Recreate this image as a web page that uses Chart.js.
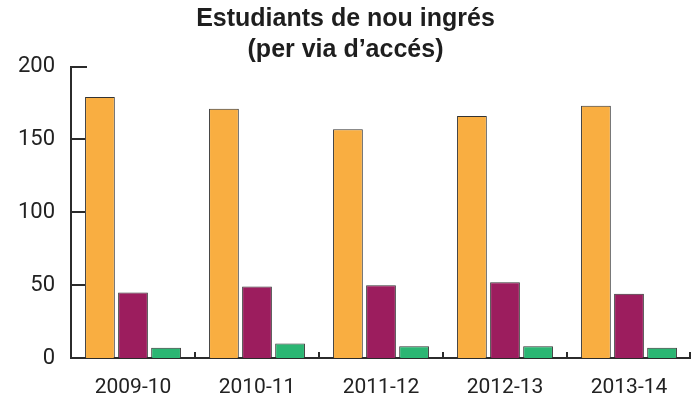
<!DOCTYPE html>
<html>
<head>
<meta charset="utf-8">
<script src="https://cdn.jsdelivr.net/npm/chart.js@4/dist/chart.umd.min.js"></script>
<style>
  html, body { margin: 0; padding: 0; background: #fff; }
  #chart { display: block; }
</style>
</head>
<body>
<canvas id="chart" width="691" height="403"></canvas>
<script>
const categories = ["2009-10", "2010-11", "2011-12", "2012-13", "2013-14"];
const seriesOrange = [179, 171, 157, 166, 173];
const seriesPurple = [45, 49, 50, 52, 44];
const seriesGreen = [7, 10, 8, 8, 7];
const yTicks = [0, 50, 100, 150, 200];
const titleLines = ["Estudiants de nou ingrés", "(per via d’accés)"];

const axisColor = "#2b2b2b";

// marques d'eix cap a dins (com a l'original)
const innerTicks = {
  id: "innerTicks",
  afterDraw(chart) {
    const { ctx, chartArea, scales } = chart;
    const x = scales.x, y = scales.y;
    const step = x.getPixelForValue(1) - x.getPixelForValue(0);
    ctx.save();
    ctx.strokeStyle = axisColor;
    ctx.lineWidth = 2;
    ctx.beginPath();
    yTicks.forEach(v => {
      if (v === 0) return;
      const py = Math.round(y.getPixelForValue(v));
      const len = v === 200 ? 16 : 14;
      ctx.moveTo(chartArea.left, py);
      ctx.lineTo(chartArea.left + len, py);
    });
    for (let i = 0; i < categories.length; i++) {
      const px = Math.min(Math.round(x.getPixelForValue(i) + step / 2), chartArea.right - 1);
      ctx.moveTo(px, chartArea.bottom);
      ctx.lineTo(px, chartArea.bottom - 6);
    }
    ctx.stroke();
    ctx.restore();
  }
};

const barStyle = { borderColor: "#333", borderWidth: 1, categoryPercentage: 0.8, barPercentage: 0.9 };

new Chart(document.getElementById("chart"), {
  type: "bar",
  data: {
    labels: categories,
    datasets: [
      Object.assign({ label: "A", data: seriesOrange, backgroundColor: "#f9ae41" }, barStyle),
      Object.assign({ label: "B", data: seriesPurple, backgroundColor: "#9c1d5e" }, barStyle),
      Object.assign({ label: "C", data: seriesGreen, backgroundColor: "#2bb673" }, barStyle)
    ]
  },
  options: {
    responsive: false,
    animation: false,
    layout: { padding: 0 },
    plugins: {
      legend: { display: false },
      tooltip: { enabled: false },
      title: {
        display: true,
        text: titleLines,
        color: "#1e1e1e",
        font: { family: "Liberation Sans, Arial, sans-serif", size: 25, weight: "bold", lineHeight: 1.25 },
        padding: { top: 3, bottom: 1 }
      }
    },
    scales: {
      x: {
        grid: { display: false },
        border: { display: true, color: axisColor, width: 2 },
        ticks: {
          color: "#222",
          font: { family: "Roboto, sans-serif", size: 21 },
          padding: 9
        },
        afterFit(scale) { scale.height = 45; }
      },
      y: {
        min: 0,
        max: 200,
        afterBuildTicks(scale) { scale.ticks = yTicks.map(v => ({ value: v })); },
        grid: { display: false },
        border: { display: true, color: axisColor, width: 2 },
        ticks: {
          color: "#222",
          font: { family: "Roboto, sans-serif", size: 22 },
          padding: 8
        },
        afterFit(scale) { scale.width = 71; }
      }
    }
  },
  plugins: [innerTicks]
});
</script>
</body>
</html>
